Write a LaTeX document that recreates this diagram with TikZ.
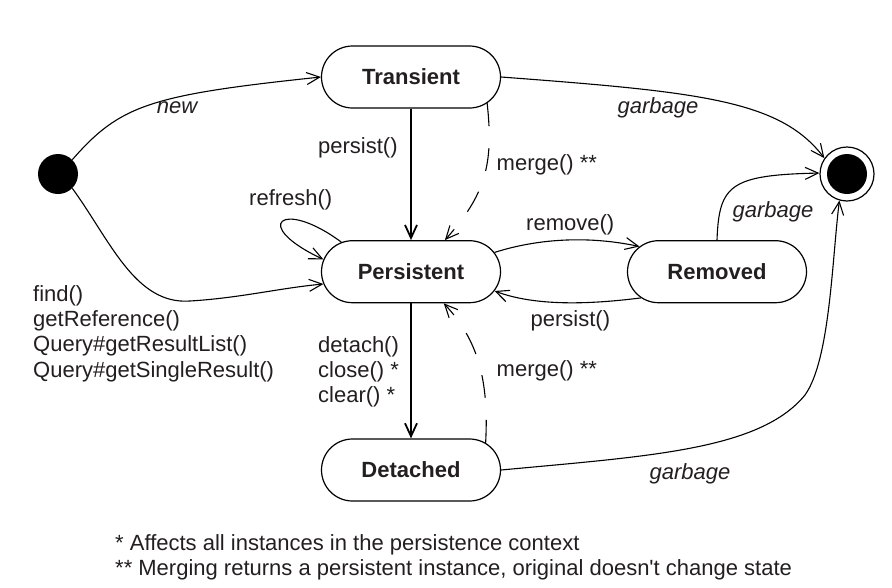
\documentclass[tikz,border=0pt]{standalone}
\usepackage{fontspec}
\setmainfont{Liberation Sans}
\usetikzlibrary{arrows.meta,shapes.misc}
\definecolor{ink}{RGB}{35,31,32}
\begin{document}
\begin{tikzpicture}[x=1pt,y=-1pt,
  every node/.style={font=\fontsize{22}{25.4}\selectfont, text=ink},
  state/.style={rounded rectangle, draw=black, line width=1.2pt,
    minimum width=179pt, minimum height=62pt, inner sep=0pt,
    font=\fontsize{22}{25.4}\selectfont\bfseries},
  tr/.style={line width=1.1pt, -{Straight Barb[length=13pt,width=12pt]}},
  mainflow/.style={tr, line width=1.8pt},
  dashedtr/.style={tr, dash pattern=on 23pt off 22pt},
  lbl/.style={inner sep=0pt},
  ilbl/.style={inner sep=0pt, font=\fontsize{22}{25.4}\selectfont\itshape}
]
\useasboundingbox (0,0) rectangle (892,587);

% states
\node[state] (trans) at (411,77) {Transient};
\node[state] (pers) at (411,271.7) {Persistent};
\node[state] (rem) at (717,271.7) {Removed};
\node[state] (det) at (411,470) {Detached};
\node[circle, fill=black, minimum size=40pt, inner sep=0pt] (init) at (58,174) {};
\node[circle, draw=black, line width=1.2pt, minimum size=54pt, inner sep=0pt,
  path picture={\fill[black] (path picture bounding box.center) circle (20pt);}] (final) at (847,174) {};

% transitions
\draw[tr] (init.45) .. controls (120,105) and (150,95) .. (trans.west);
\draw[tr] (init.-45) .. controls (110,240) and (135,305) .. (190,301)
   .. controls (240,298) and (280,288) .. (pers.188);
\draw[mainflow] (trans.south) -- (pers.north);
\draw[mainflow] (pers.south) -- (det.north);
\draw[dashedtr] (trans.-19) .. controls (494,165) and (485,195) .. (pers.43);
\draw[dashedtr] (det.20) .. controls (489,380) and (478,340) .. (pers.-44);
\draw[tr] (pers.157) .. controls (282,198) and (250,225) .. (pers.172);
\draw[tr] (pers.13) .. controls (540,238) and (590,236) .. (rem.162);
\draw[tr] (rem.199) .. controls (600,303) and (540,308) .. (pers.-13);
\draw[tr] (trans.east) .. controls (700,92) and (780,100) .. (final.145);
\draw[tr] (rem.north) .. controls (719,185) and (730,175) .. (final.178);
\draw[tr] (det.east) .. controls (650,456) and (760,450) .. (805,395)
   .. controls (830,360) and (832,260) .. (final.-106);

% labels
\node[ilbl, anchor=base] (newlbl) at (177,113.5) {new};
\node[lbl, anchor=base west] (persistlbl) at (318,153.5) {persist()};
\node[lbl, anchor=base west] (refreshlbl) at (249,205.5) {refresh()};
\node[lbl, anchor=base west] (mergeonelbl) at (496.5,170) {merge() **};
\node[ilbl, anchor=base west] (garbonelbl) at (617.5,113.5) {garbage};
\node[lbl, anchor=base west] (removelbl) at (526,230.5) {remove()};
\node[ilbl, anchor=base west] (garbtwolbl) at (732.5,217) {garbage};
\node[lbl, anchor=base west] (persisttwolbl) at (530.5,326.5) {persist()};
\node[lbl, anchor=base west] (mergetwolbl) at (496.5,376.5) {merge() **};
\node[ilbl, anchor=base west] (garbthreelbl) at (649.5,479) {garbage};
\node[lbl, anchor=base west, align=left] (findlbl) at (33,377.2)
  {find()\\getReference()\\Query\#getResultList()\\Query\#getSingleResult()};
\node[lbl, anchor=base west, align=left] (detachlbl) at (318,402.8)
  {detach()\\close() *\\clear() *};
\node[lbl, anchor=base west, align=left] (notes) at (115,575.4)
  {* Affects all instances in the persistence context\\** Merging returns a persistent instance, original doesn\textquotesingle t change state};
\end{tikzpicture}
\end{document}
